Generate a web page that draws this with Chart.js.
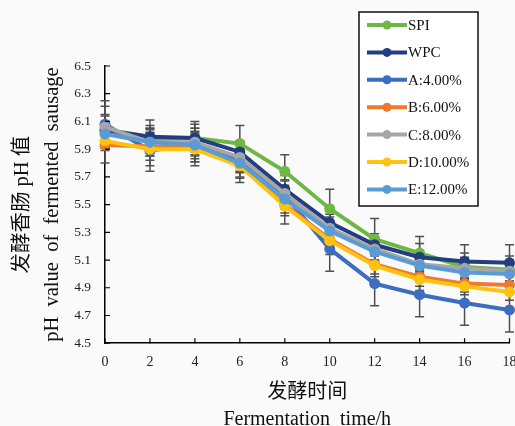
<!DOCTYPE html>
<html>
<head>
<meta charset="utf-8">
<script src="https://cdn.jsdelivr.net/npm/chart.js@4.4.1/dist/chart.umd.min.js"></script>
<style>
html,body{margin:0;padding:0;background:#fafafa;}
#wrap{position:relative;width:515px;height:426px;}
canvas{display:block;}
</style>
</head>
<body>
<div id="wrap"><canvas id="c" width="515" height="426"></canvas></div>
<script>
const timeLabels = ['0','2','4','6','8','10','12','14','16','18'];
const seriesNames = ['SPI','WPC','A:4.00%','B:6.00%','C:8.00%','D:10.00%','E:12.00%'];
const seriesColors = ['#6CB843','#223E80','#3D6DC0','#EE7A2E','#A6A6A6','#FFC20E','#5A9BD6'];

const spi = [6.03, 5.97, 5.98, 5.94, 5.74, 5.47, 5.25, 5.15, 5.05, 5.03];
const wpc = [6.04, 5.99, 5.98, 5.88, 5.61, 5.37, 5.21, 5.12, 5.09, 5.08];
const a4  = [6.08, 5.89, 5.93, 5.83, 5.57, 5.18, 4.93, 4.85, 4.79, 4.74];
const b6  = [5.93, 5.92, 5.91, 5.79, 5.50, 5.25, 5.07, 4.98, 4.93, 4.92];
const c8  = [6.06, 5.95, 5.95, 5.84, 5.58, 5.33, 5.18, 5.07, 5.04, 5.02];
const d10 = [5.96, 5.90, 5.90, 5.78, 5.49, 5.24, 5.06, 4.96, 4.91, 4.87];
const e12 = [6.01, 5.95, 5.93, 5.80, 5.54, 5.31, 5.16, 5.06, 5.01, 5.00];

const spiErr = [0.12, 0.10, 0.10, 0.13, 0.12, 0.14, 0.15, 0.12, 0.10, 0.10];
const wpcErr = [0.10, 0.12, 0.12, 0.08, 0.10, 0.08, 0.08, 0.10, 0.12, 0.13];
const a4Err  = [0.17, 0.15, 0.12, 0.10, 0.10, 0.16, 0.16, 0.16, 0.16, 0.16];
const b6Err  = [0.13, 0.10, 0.10, 0.10, 0.08, 0.08, 0.07, 0.07, 0.06, 0.06];
const c8Err  = [0.15, 0.10, 0.10, 0.10, 0.10, 0.10, 0.08, 0.08, 0.08, 0.08];
const d10Err = [0.07, 0.12, 0.12, 0.12, 0.13, 0.10, 0.08, 0.08, 0.06, 0.06];
const e12Err = [0.08, 0.10, 0.10, 0.10, 0.10, 0.10, 0.08, 0.08, 0.08, 0.08];

const yTicks = [4.5, 4.7, 4.9, 5.1, 5.3, 5.5, 5.7, 5.9, 6.1, 6.3, 6.5];

const allValues = [spi, wpc, a4, b6, c8, d10, e12];
const allErrors = [spiErr, wpcErr, a4Err, b6Err, c8Err, d10Err, e12Err];

const SERIF = '"Liberation Serif","Times New Roman","Noto Sans CJK SC",serif';

const datasets = seriesNames.map((name, i) => ({
  label: name,
  data: allValues[i],
  errors: allErrors[i],
  borderColor: seriesColors[i],
  backgroundColor: seriesColors[i],
  pointBackgroundColor: seriesColors[i],
  pointBorderColor: seriesColors[i],
  borderWidth: 4,
  pointRadius: 5.5,
  pointBorderWidth: 0,
  tension: 0,
  clip: false,
  order: seriesNames.length - 1 - i
}));

const errorBarPlugin = {
  id: 'errorBars',
  beforeDatasetsDraw(chart) {
    const ctx = chart.ctx;
    const ys = chart.scales.y;
    ctx.save();
    ctx.strokeStyle = '#505050';
    ctx.lineWidth = 1.5;
    chart.data.datasets.forEach((ds, i) => {
      const meta = chart.getDatasetMeta(i);
      meta.data.forEach((pt, j) => {
        const v = ds.data[j], e = ds.errors[j];
        const top = ys.getPixelForValue(v + e);
        const bot = ys.getPixelForValue(v - e);
        const x = pt.x;
        ctx.beginPath();
        ctx.moveTo(x, top); ctx.lineTo(x, bot);
        ctx.moveTo(x - 4.5, top); ctx.lineTo(x + 4.5, top);
        ctx.moveTo(x - 4.5, bot); ctx.lineTo(x + 4.5, bot);
        ctx.stroke();
      });
    });
    ctx.restore();
  }
};

const innerTicksPlugin = {
  id: 'innerTicks',
  afterDraw(chart) {
    const ctx = chart.ctx;
    const xs = chart.scales.x, ys = chart.scales.y;
    const area = chart.chartArea;
    ctx.save();
    ctx.strokeStyle = '#000';
    ctx.lineWidth = 1.2;
    ctx.beginPath();
    xs.ticks.forEach((t, i) => {
      const x = xs.getPixelForTick(i);
      ctx.moveTo(x, area.bottom); ctx.lineTo(x, area.bottom - 5);
    });
    ys.ticks.forEach((t, i) => {
      const y = ys.getPixelForTick(i);
      ctx.moveTo(area.left, y); ctx.lineTo(area.left + 5, y);
    });
    ctx.stroke();
    ctx.restore();
  }
};

const legendBoxPlugin = {
  id: 'legendBox',
  afterDraw(chart) {
    const ctx = chart.ctx;
    const bx = 359, by = 12, bw = 119, bh = 194;
    ctx.save();
    ctx.fillStyle = '#ffffff';
    ctx.fillRect(bx, by, bw, bh);
    ctx.strokeStyle = '#111';
    ctx.lineWidth = 1.5;
    ctx.strokeRect(bx, by, bw, bh);
    ctx.font = '15px ' + SERIF;
    ctx.textBaseline = 'middle';
    ctx.textAlign = 'left';
    chart.data.datasets.forEach((ds, i) => {
      const y = 25 + i * 27.4;
      ctx.strokeStyle = ds.borderColor;
      ctx.lineWidth = 4;
      ctx.beginPath();
      ctx.moveTo(367, y); ctx.lineTo(407, y);
      ctx.stroke();
      ctx.fillStyle = ds.borderColor;
      ctx.beginPath();
      ctx.arc(387, y, 4.5, 0, Math.PI * 2);
      ctx.fill();
      ctx.fillStyle = '#111';
      ctx.fillText(ds.label, 408, y + 1);
    });
    ctx.restore();
  }
};

new Chart(document.getElementById('c'), {
  type: 'line',
  data: { labels: timeLabels, datasets: datasets },
  options: {
    responsive: false,
    animation: false,
    layout: { padding: { top: 66, right: 0, left: 8, bottom: 0 } },
    plugins: { legend: { display: false }, tooltip: { enabled: false } },
    scales: {
      x: {
        type: 'category',
        offset: false,
        afterFit(scale) { scale.paddingRight = 5; scale.paddingLeft = 0; },
        grid: { display: false, drawTicks: false },
        border: { display: true, color: '#000', width: 1.5 },
        ticks: { color: '#222', font: { family: SERIF, size: 14 }, padding: 11, maxRotation: 0, autoSkip: false },
        title: {
          display: true,
          text: ['发酵时间', 'Fermentation  time/h'],
          color: '#111',
          font: { family: SERIF, size: 20, lineHeight: 1.35 },
          padding: { top: -3, bottom: -7 }
        }
      },
      y: {
        type: 'linear',
        min: 4.5, max: 6.5,
        afterBuildTicks(scale) { scale.ticks = yTicks.map(v => ({ value: v })); },
        afterFit(scale) { scale.width = 97; },
        grid: { display: false, drawTicks: false },
        border: { display: true, color: '#000', width: 1.5 },
        ticks: { color: '#222', font: { family: SERIF, size: 13.5 }, padding: 14,
                 callback: v => v.toFixed(1) },
        title: {
          display: true,
          text: ['发酵香肠 pH 值', 'pH  value  of  fermented  sausage'],
          color: '#111',
          font: { family: SERIF, size: 20.5, lineHeight: 1.46 },
          padding: { top: 0, bottom: 3 }
        }
      }
    }
  },
  plugins: [errorBarPlugin, innerTicksPlugin, legendBoxPlugin]
});
</script>
</body>
</html>
